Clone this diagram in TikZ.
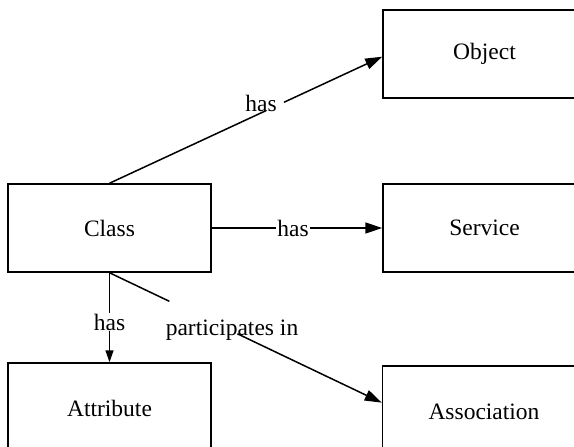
\documentclass[tikz,border=0pt]{standalone}
\usepackage{fontspec}
\setmainfont{Liberation Serif}
\usetikzlibrary{arrows.meta,calc}
\begin{document}
\begin{tikzpicture}[x=1pt,y=-1pt,
  box/.style={draw,line width=1.5pt,minimum width=203pt,minimum height=88pt,inner sep=0pt,font=\fontsize{23.5}{28}\selectfont},
  conn/.style={line width=1.5pt},
  arr/.style={conn,-{Triangle[length=17pt,width=11pt]}},
  sarr/.style={conn,-{Triangle[length=12pt,width=8pt]}},
  lbl/.style={font=\fontsize{23.5}{28}\selectfont,inner sep=1pt}]
\useasboundingbox (0,0) rectangle (574,447);
\clip (0,0) rectangle (574,447);
\node[box] (cls) at (109.5,228) {Class};
\node[box,minimum height=90pt] (att) at (109.5,408) {Attribute};
\node[box] (obj) at (484.5,54) {Object};
\node[box] (srv) at (484.5,228) {Service};
\node[box,minimum height=92pt] (asc) at (484,412) {Association};
\coordinate (objin) at ($(obj.north west)!0.53!(obj.south west)$);
\coordinate (ascin) at ($(asc.north west)!0.4!(asc.south west)$);
% Class -> Object
\draw[conn] (cls.north) -- ($(cls.north)!0.575!(objin)$);
\draw[arr] ($(cls.north)!0.64!(objin)$) -- (objin);
\node[lbl] (l1) at (261,103) {has};
% Class -> Service
\draw[arr] (cls.east) -- node[lbl,fill=white,pos=0.477] (l2) {has} (srv.west);
% Class -> Attribute
\draw[sarr] (cls.south) -- node[lbl,fill=white,pos=0.55] (l3) {has} (att.north);
% Class -> Association
\draw[conn] (cls.south) -- ($(cls.south)!0.22!(ascin)$);
\draw[arr] ($(cls.south)!0.47!(ascin)$) -- (ascin);
\node[lbl] (l4) at (232,330) {participates in};
\end{tikzpicture}
\end{document}
